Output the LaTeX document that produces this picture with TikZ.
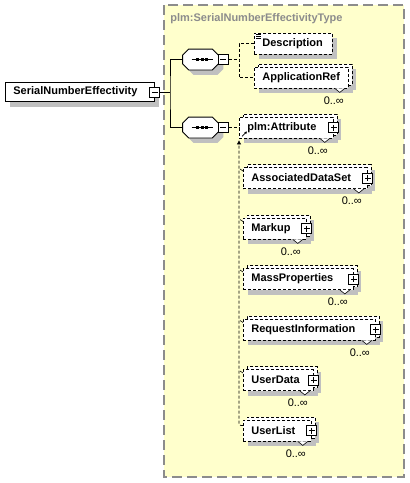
\documentclass[tikz,border=0pt]{standalone}
\usepackage{fontspec}
\setmainfont{Liberation Sans}
\usetikzlibrary{shadows,arrows.meta}

\definecolor{typebg}{HTML}{FFFFCC}
\definecolor{typeline}{HTML}{8C8C8C}
\definecolor{shade}{HTML}{C0C0C0}
\newcommand{\dfont}{\fontsize{11}{13}\selectfont}

\begin{document}
\begin{tikzpicture}[x=1pt, y=-1pt, line width=0.8pt,
    sh/.style={drop shadow={shadow xshift=5pt, shadow yshift=-5pt, fill=shade, opacity=1}},
    elem/.style={draw, dash pattern=on 3pt off 2pt, fill=white, anchor=west,
      minimum height=21pt, inner xsep=8pt, inner ysep=0pt, align=left,
      font=\dfont\bfseries, sh},
    multi/.style={elem,
      drop shadow={shadow xshift=8pt, shadow yshift=-2pt, fill=shade, opacity=1},
      copy shadow={shadow xshift=4pt, shadow yshift=3pt,
      draw=black, fill=white, dash pattern=on 3pt off 2pt}},
    mainel/.style={draw, solid, fill=white, anchor=west, minimum height=19pt,
      inner xsep=8pt, inner ysep=0pt, align=left, font=\dfont\bfseries, sh},
    seq/.style={minimum width=35pt, minimum height=20pt, inner sep=0pt},
    minusbox/.style={draw, solid, fill=white, minimum size=10pt, inner sep=0pt,
      path picture={\draw ([xshift=2pt]path picture bounding box.west) --
        ([xshift=-2pt]path picture bounding box.east);}},
    plusbox/.style={minusbox, path picture={\draw
        ([xshift=2pt]path picture bounding box.west) --
        ([xshift=-2pt]path picture bounding box.east)
        ([yshift=-2pt]path picture bounding box.north) --
        ([yshift=2pt]path picture bounding box.south);}},
    occ/.style={font=\dfont, inner sep=0pt},
    dsh/.style={dash pattern=on 3pt off 2pt}]
  \useasboundingbox (0,0) rectangle (410,483);

  % complex type
  \draw[typeline, line width=1.3pt, dash pattern=on 10pt off 5pt, fill=typebg]
    (164,5) rectangle (404,477);
  \node[anchor=west, inner sep=0pt, text=typeline, font=\dfont\bfseries] (title)
    at (170,19) {plm:SerialNumberEffectivityType};

  % root element
  \node[mainel, text width=133pt] (main) at (5,92) {SerialNumberEffectivity};
  \node[minusbox] (mainmin) at (main.east) {};

  % sequences
  \node[seq] (seqa) at (200.5,59.5) {};
  \node[seq] (seqb) at (200.5,127.5) {};
  \foreach \s in {seqa,seqb} {
    \draw[fill=white, sh] ([xshift=6pt]\s.north west) -- ([xshift=-6pt]\s.north east)
      -- ([yshift=-6pt]\s.north east) -- ([yshift=6pt]\s.south east)
      -- ([xshift=-6pt]\s.south east) -- ([xshift=6pt]\s.south west)
      -- ([yshift=6pt]\s.south west) -- ([yshift=-6pt]\s.north west) -- cycle;
    \draw ([xshift=-9pt]\s.center) -- ([xshift=12pt]\s.center);
    \foreach \d in {-3,1.5,6}
      \fill ([xshift=\d pt]\s.center) +(-1.5,-1.5) rectangle +(1.5,1.5);
  }
  \node[minusbox] (mina) at ([xshift=5pt]seqa.east) {};
  \node[minusbox] (minb) at ([xshift=5pt]seqb.east) {};

  \coordinate (fork) at (170,92);
  \draw (mainmin.east) -- (fork);
  \draw (seqa.west) -| (fork) |- (seqb.west);

  % first sequence
  \node[elem, text width=62pt] (desc) at (254,43.5) {Description};
  \draw[line width=0.6pt] (256,34) -- ++(5,0) (256,36) -- ++(5,0) (256,38) -- ++(5,0);
  \node[multi, text width=78pt] (appref) at (254,77.5) {ApplicationRef};
  \draw[fill=white, line width=0.6pt] ([xshift=-14pt]appref.south east) -- ++(5,4) -- ++(5,-4);
  \node[occ] (apprefocc) at ([xshift=-15pt,yshift=-12pt]appref.south east) {0..∞};

  \coordinate (forka) at (239,59.5);
  \draw[dsh] (mina.east) -- (forka);
  \draw[dsh] (desc.west) -| (forka) |- (appref.west);

  % second sequence
  \node[multi, text width=78pt] (attr) at (239,127.5) {plm:Attribute};
  \node[multi, text width=108pt] (ads) at (243,178) {AssociatedDataSet};
  \node[multi, text width=47pt] (markup) at (243,228.5) {Markup};
  \node[multi, text width=94pt] (massprop) at (243,279) {MassProperties};
  \node[multi, text width=116pt] (reqinfo) at (243,329.5) {RequestInformation};
  \node[multi, text width=54pt] (udata) at (243,380) {UserData};
  \node[multi, text width=52pt] (ulist) at (243,430.5) {UserList};

  \foreach \e in {attr,ads,markup,massprop,reqinfo,udata,ulist} {
    \node[plusbox] (\e plus) at (\e.east) {};
    \draw[fill=white, line width=0.6pt] ([xshift=-14pt]\e.south east) -- ++(5,4) -- ++(5,-4);
    \node[occ] (\e occ) at ([xshift=-16pt,yshift=-12pt]\e.south east) {0..∞};
  }
  \foreach \e in {ads,markup,massprop,reqinfo,udata}
    \draw[line width=0.6pt] ([yshift=7pt]\e.west) -- ++(-3,-2);

  \draw[dsh] (minb.east) -- (attr.west);
  \draw[-{Latex[length=2.5pt,width=3pt]}, line width=0.6pt]
    ([xshift=3pt,yshift=2pt]attr.south west) -- ++(5,-5);
  \draw[dsh, rounded corners=2pt, -{Triangle[length=4pt,width=4pt]}]
    ([yshift=5pt]ulist.west) -| ([yshift=-2pt]attr.south west);
\end{tikzpicture}
\end{document}
